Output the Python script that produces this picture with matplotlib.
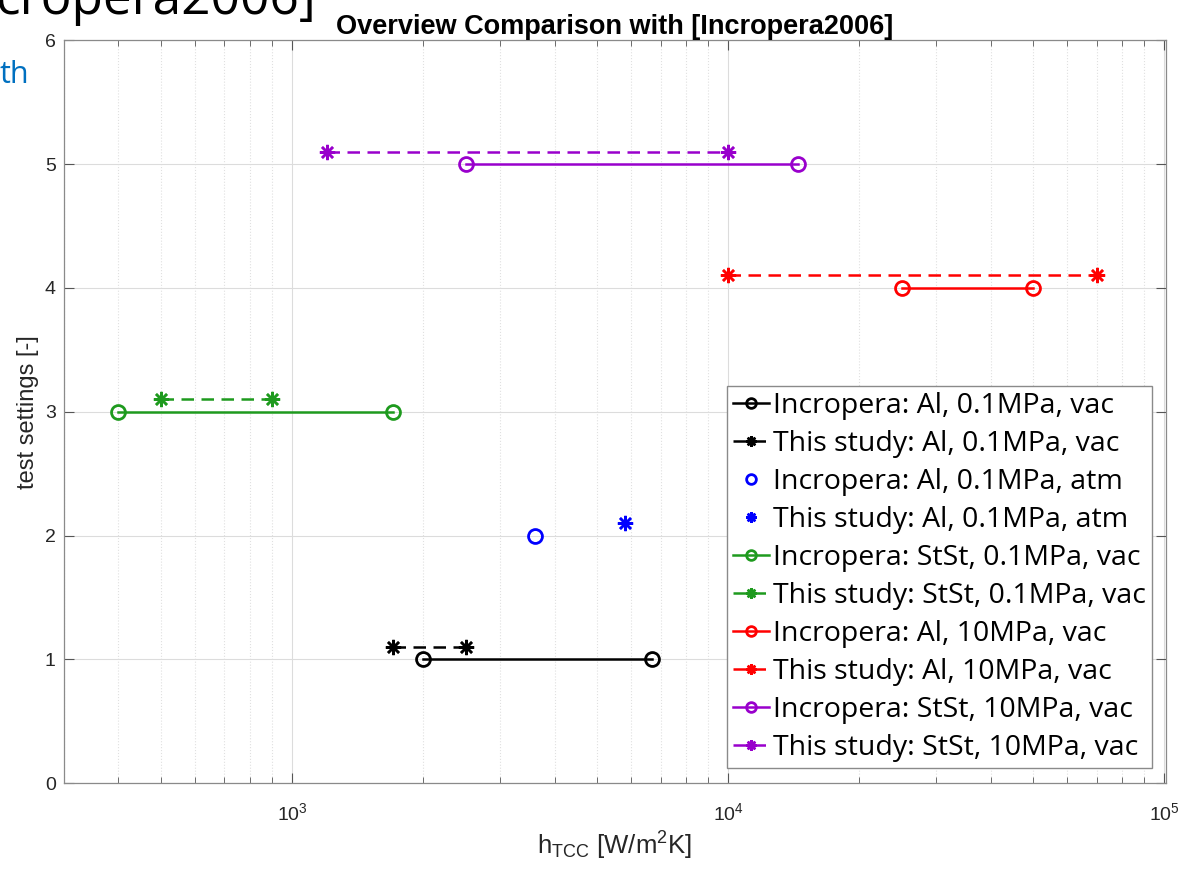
import matplotlib
matplotlib.use("Agg")
import matplotlib.pyplot as plt
from matplotlib.ticker import LogLocator, NullFormatter, FixedLocator

# ---- data ----
labels = [
    "Incropera: Al, 0.1MPa, vac", "This study: Al, 0.1MPa, vac",
    "Incropera: Al, 0.1MPa, atm", "This study: Al, 0.1MPa, atm",
    "Incropera: StSt, 0.1MPa, vac", "This study: StSt, 0.1MPa, vac",
    "Incropera: Al, 10MPa, vac", "This study: Al, 10MPa, vac",
    "Incropera: StSt, 10MPa, vac", "This study: StSt, 10MPa, vac",
]
x_values = [
    [2000, 6700], [1700, 2500],
    [3600], [5800],
    [400, 1700], [500, 900],
    [25000, 50000], [10000, 70000],
    [2500, 14500], [1200, 10000],
]
y_values = [
    [1, 1], [1.1, 1.1],
    [2], [2.1],
    [3, 3], [3.1, 3.1],
    [4, 4], [4.1, 4.1],
    [5, 5], [5.1, 5.1],
]
colors = ["black", "black", "#0000FF", "#0000FF", "#1E9A1E", "#1E9A1E",
          "#FF0000", "#FF0000", "#9900CC", "#9900CC"]
x_ticks = [1e3, 1e4, 1e5]
y_ticks = [0, 1, 2, 3, 4, 5, 6]

fig = plt.figure(figsize=(11.92, 8.75), dpi=100)
ax = fig.add_axes([0.0537, 0.105, 0.9245, 0.849])

asterisk = (8, 2, 0)
for i, (lab, xs, ys, c) in enumerate(zip(labels, x_values, y_values, colors)):
    study = (i % 2 == 1)
    single = len(xs) == 1
    kw = dict(color=c, lw=1.8, label=lab)
    if single:
        kw["linestyle"] = "none"
    elif study:
        kw["linestyle"] = (0, (5, 3))
    else:
        kw["linestyle"] = "-"
    if study:
        ax.plot(xs, ys, marker=asterisk, ms=11, mew=1.8, mec=c, mfc=c, **kw)
    else:
        ax.plot(xs, ys, marker="o", ms=10, mew=2.0, mec=c, mfc="none", **kw)

ax.set_xscale("log")
ax.set_xlim(300, 1.01e5)
ax.set_ylim(0, 6)
ax.xaxis.set_major_locator(FixedLocator(x_ticks))
ax.xaxis.set_minor_locator(LogLocator(base=10, subs=range(2, 10)))
ax.xaxis.set_minor_formatter(NullFormatter())
ax.set_yticks(y_ticks)
ax.set_xticklabels([r"$\mathregular{10^{3}}$", r"$\mathregular{10^{4}}$", r"$\mathregular{10^{5}}$"])

ax.grid(True, which="major", color="#dcdcdc", lw=0.8, ls="-")
ax.grid(True, which="minor", axis="x", color="#e0e0e0", lw=0.8, ls=":")
ax.set_axisbelow(True)

for sp in ax.spines.values():
    sp.set_color("#8a8a8a")
    sp.set_linewidth(0.9)
ax.tick_params(which="both", direction="in", top=True, right=True, colors="#555555",
               labelcolor="#262626", labelsize=14)
ax.tick_params(which="major", length=7)
ax.tick_params(which="minor", length=4)
for t in ax.get_xticklabels() + ax.get_yticklabels():
    t.set_family("Liberation Sans")
ax.tick_params(axis="x", pad=14)
ax.tick_params(axis="y", pad=6)

ax.set_xlabel(r"$\mathregular{h_{TCC}}$ [W/m$\mathregular{^2}$K]", fontsize=18.5,
              family="Liberation Sans", color="#262626", labelpad=4)
ax.set_ylabel("test settings [-]", fontsize=17, family="Liberation Sans",
              color="#262626", labelpad=4)
ax.set_title("Overview Comparison with [Incropera2006]", fontsize=19.5,
             fontweight="bold", family="Liberation Sans", pad=4)

leg = ax.legend(loc="upper left", bbox_to_anchor=(0.602, 0.534), borderaxespad=0,
                fancybox=False, edgecolor="#8a8a8a", framealpha=1,
                prop={"family": "Open Sans", "size": 20.5}, handlelength=1.25,
                handletextpad=0.15, labelspacing=0.35, borderpad=0.2,
                markerscale=0.7)
leg.get_frame().set_linewidth(1.0)

# fragments of the surrounding slide visible in the screenshot
fig.text(316 / 1192, 1 - 14 / 875, "cropera2006]", ha="right", va="baseline",
         fontsize=37, family="Open Sans", color="black")
fig.text(0, 1 - 83 / 875, "th", ha="left", va="baseline", fontsize=22,
         family="Open Sans", color="#0070C0")

fig.savefig("out.png", dpi=100)
